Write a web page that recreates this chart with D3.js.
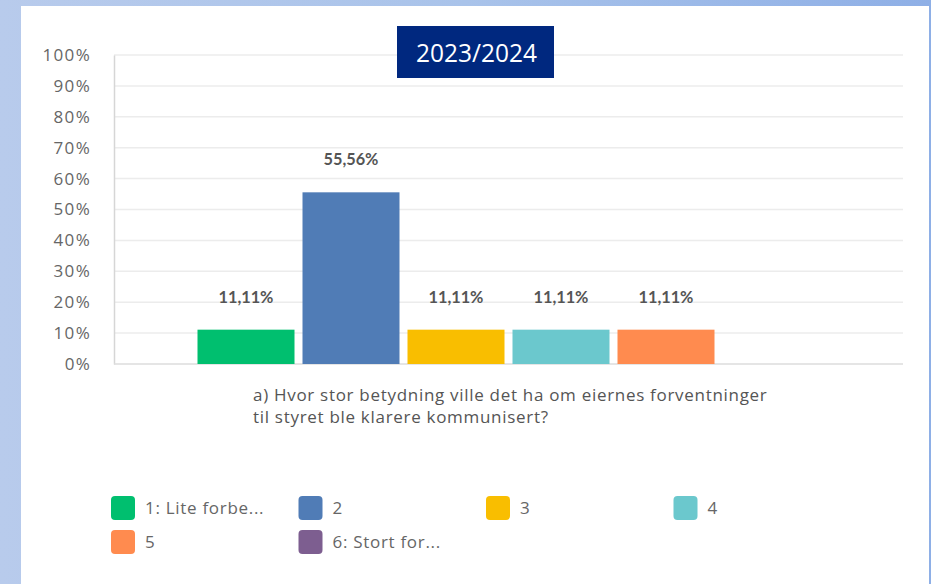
<!DOCTYPE html>
<html><head><meta charset="utf-8">
<script src="https://cdn.jsdelivr.net/npm/d3@7"></script>
<style>
html,body{margin:0;padding:0;}
body{width:931px;height:584px;overflow:hidden;background:linear-gradient(90deg,#b8cbec 0%,#a9c3ea 50%,#8eafe6 100%);}
svg{display:block;}
</style></head>
<body>
<script>
const categories = ["1: Lite forbe...", "2", "3", "4", "5", "6: Stort for..."];
const values = [11.11, 55.56, 11.11, 11.11, 11.11, 0];
const labels = ["11,11%", "55,56%", "11,11%", "11,11%", "11,11%", ""];
const colors = ["#00bf6f", "#507cb6", "#f9be00", "#6bc8cd", "#ff8b4f", "#7d5e90"];
const yTicks = [0,10,20,30,40,50,60,70,80,90,100];
const title = "2023/2024";
const question = ["a) Hvor stor betydning ville det ha om eiernes forventninger", "til styret ble klarere kommunisert?"];

const W = 931, H = 584;
const svg = d3.select("body").append("svg").attr("width", W).attr("height", H);
svg.append("rect").attr("x",21).attr("y",6).attr("width",908).attr("height",H-6).attr("fill","#fff");

const font = "'Open Sans', sans-serif";
const boldFont = "Lato, 'Open Sans', sans-serif";
const plotL = 114, plotR = 903, y0 = 364, y100 = 55;
const y = d3.scaleLinear().domain([0,100]).range([y0, y100]);
const step = 105;
const groupW = step * categories.length;
const gx0 = plotL + (plotR - plotL - groupW) / 2;
const x = d3.scaleBand().domain(categories).range([gx0, gx0 + groupW]).paddingInner(8/105).paddingOuter(4/105);

// gridlines
svg.append("g").selectAll("line").data(yTicks.filter(d=>d>0)).join("line")
  .attr("x1", plotL).attr("x2", plotR).attr("y1", d=>y(d)).attr("y2", d=>y(d))
  .attr("stroke", "#ececec").attr("stroke-width", 1.5);

// y axis
const yAxis = d3.axisLeft(y).tickValues(yTicks).tickFormat(d=>d+"%").tickSize(0).tickPadding(23);
const ga = svg.append("g").attr("transform", `translate(${plotL},0)`).call(yAxis);
ga.select(".domain").attr("stroke","#d6d6d6").attr("stroke-width",1.5);
ga.selectAll("text").attr("font-family", font).attr("font-size", 17).attr("letter-spacing", 1.3).attr("fill", "#666");
// baseline
svg.append("line").attr("x1",plotL).attr("x2",plotR).attr("y1",y0).attr("y2",y0).attr("stroke","#dcdcdc").attr("stroke-width",1.5);

// bars
svg.append("g").selectAll("rect").data(categories).join("rect")
  .attr("x", d=>x(d)).attr("width", x.bandwidth())
  .attr("y", (d,i)=>y(values[i])).attr("height", (d,i)=>y0 - y(values[i]))
  .attr("fill", (d,i)=>colors[i]);

// value labels
svg.append("g").selectAll("text").data(categories).join("text")
  .attr("x", d=>x(d)+x.bandwidth()/2).attr("y", (d,i)=>y(values[i]) - 27)
  .attr("text-anchor","middle").attr("font-family", boldFont).attr("font-weight", 700)
  .attr("font-size", 16.3).attr("fill", "#555").text((d,i)=>labels[i]);

// title box
svg.append("rect").attr("x",397).attr("y",26).attr("width",157).attr("height",52).attr("fill","#00287f");
svg.append("text").attr("x",416).attr("y",62)
  .attr("font-family","'Open Sans', sans-serif").attr("font-size",26)
  .attr("textLength",121).attr("lengthAdjust","spacingAndGlyphs").attr("fill","#fff").text(title);

// question
svg.append("g").selectAll("text").data(question).join("text")
  .attr("x", 253).attr("y", (d,i)=>401 + i*22)
  .attr("font-family", font).attr("font-size", 17).attr("letter-spacing", 0.7).attr("fill", "#555").text(d=>d);

// legend
const lg = svg.append("g");
categories.forEach((c,i)=>{
  const col = i % 4, row = Math.floor(i/4);
  const lx = 111 + col*187.5, ly = 496 + row*34;
  lg.append("rect").attr("x",lx).attr("y",ly).attr("width",24).attr("height",24).attr("rx",4).attr("fill",colors[i]);
  lg.append("text").attr("x",lx+34).attr("y",ly+18).attr("font-family",font).attr("font-size",17).attr("letter-spacing", 0.7).attr("fill","#666").text(c);
});
</script>
</body></html>
